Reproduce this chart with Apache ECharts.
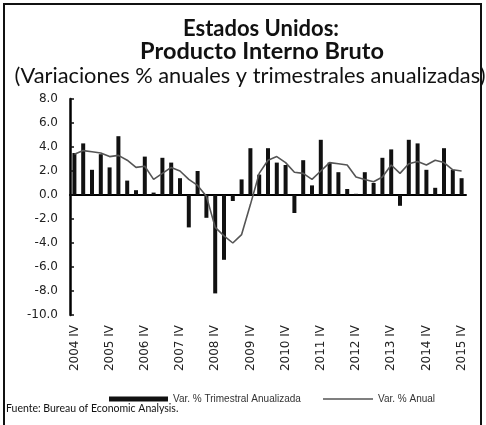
<!DOCTYPE html>
<html>
<head>
<meta charset="utf-8">
<script src="https://cdn.jsdelivr.net/npm/echarts@6/dist/echarts.min.js"></script>
<style>
  html, body { margin: 0; padding: 0; background: #fff; }
  #chart { width: 486px; height: 425px; }
</style>
</head>
<body>
<div id="chart"></div>
<script>
// trimestres 2004 IV - 2015 IV
var years = ['2004','2005','2006','2007','2008','2009','2010','2011','2012','2013','2014','2015'];
var quarters = [];
quarters.push('2004 IV');
for (var y = 1; y < years.length; y++) {
    quarters.push(years[y] + ' I', years[y] + ' II', years[y] + ' III', years[y] + ' IV');
}

// Var. % trimestral anualizada
var trimestral = [
    3.5,
    4.3, 2.1, 3.4, 2.3,
    4.9, 1.2, 0.4, 3.2,
    0.2, 3.1, 2.7, 1.4,
    -2.7, 2.0, -1.9, -8.2,
    -5.4, -0.5, 1.3, 3.9,
    1.7, 3.9, 2.7, 2.5,
    -1.5, 2.9, 0.8, 4.6,
    2.7, 1.9, 0.5, 0.1,
    1.9, 1.0, 3.1, 3.8,
    -0.9, 4.6, 4.3, 2.1,
    0.6, 3.9, 2.1, 1.4
];

// Var. % anual
var anual = [
    3.4,
    3.7, 3.6, 3.5, 3.2,
    3.3, 2.9, 2.3, 2.4,
    1.3, 1.8, 2.3, 2.0,
    1.3, 0.8, -0.1, -2.7,
    -3.4, -4.0, -3.3, -0.8,
    1.8, 2.9, 3.2, 2.7,
    1.9, 1.8, 1.3, 2.0,
    2.7, 2.6, 2.5, 1.5,
    1.3, 1.1, 1.5, 2.5,
    1.8, 2.6, 2.8, 2.5,
    2.9, 2.7, 2.1, 2.0
];

var legendText = { fontFamily: 'Liberation Sans', fontSize: 10, color: '#333' };

var option = {
    animation: false,
    backgroundColor: '#fff',
    title: [
        {
            text: 'Estados Unidos:',
            left: 256, top: 13, textAlign: 'center',
            textStyle: { fontFamily: 'Lato', fontSize: 22, fontWeight: 'bold', color: '#111' }
        },
        {
            text: 'Producto Interno Bruto',
            left: 257, top: 34, textAlign: 'center',
            textStyle: { fontFamily: 'Lato', fontSize: 23.5, fontWeight: 'bold', color: '#111' }
        },
        {
            text: '(Variaciones % anuales y trimestrales anualizadas)',
            left: 245, top: 60, textAlign: 'center',
            textStyle: { fontFamily: 'Lato', fontSize: 21.8, fontWeight: 'normal', color: '#111' }
        }
    ],
    legend: [
        {
            left: 104, top: 389,
            itemWidth: 59, itemHeight: 5,
            textStyle: legendText,
            data: [{ name: 'Var. % Trimestral Anualizada', icon: 'rect' }]
        },
        {
            left: 318, top: 389,
            itemWidth: 50, itemHeight: 1.5,
            textStyle: legendText,
            data: [{ name: 'Var. % Anual', icon: 'rect' }]
        }
    ],
    grid: { left: 70, right: 20, top: 99, bottom: 110 },
    xAxis: [
        {
            // etiquetas abajo
            type: 'category',
            data: quarters,
            position: 'bottom',
            axisLine: { show: false, onZero: false },
            axisTick: { show: false },
            axisLabel: {
                interval: 3, rotate: 90, margin: 10,
                fontFamily: 'DejaVu Sans', fontSize: 12, color: '#222'
            }
        },
        {
            // linea en cero
            type: 'category',
            data: quarters,
            axisLine: { show: true, onZero: true, lineStyle: { color: '#000', width: 2 } },
            axisTick: { show: false },
            axisLabel: { show: false }
        }
    ],
    yAxis: {
        type: 'value',
        min: -10, max: 8, interval: 2,
        axisLine: { show: true, onZero: false, lineStyle: { color: '#000', width: 2.5 } },
        axisTick: { show: true, inside: true, length: 4, lineStyle: { color: '#111', width: 1.5 } },
        splitLine: { show: false },
        axisLabel: {
            margin: 12,
            fontFamily: 'DejaVu Sans', fontSize: 12, color: '#222',
            formatter: function (v) { return v.toFixed(1); }
        }
    },
    series: [
        {
            name: 'Var. % Trimestral Anualizada',
            type: 'bar',
            data: trimestral,
            barWidth: 4,
            itemStyle: { color: '#111' }
        },
        {
            name: 'Var. % Anual',
            type: 'line',
            data: anual,
            symbol: 'none',
            lineStyle: { color: '#555', width: 1.6 },
            itemStyle: { color: '#555' },
            z: 3
        }
    ],
    graphic: [
        {
            type: 'polyline',
            shape: { points: [[4, 440], [4, 4], [481, 4], [481, 440]] },
            style: { stroke: '#111', lineWidth: 2, fill: null }
        },
        {
            type: 'text',
            left: 6, top: 403,
            style: { text: 'Fuente: Bureau of Economic Analysis.', fontFamily: 'Lato', fontSize: 10.5, fill: '#111' }
        }
    ]
};

var myChart = echarts.init(document.getElementById('chart'));
myChart.setOption(option);
</script>
</body>
</html>
